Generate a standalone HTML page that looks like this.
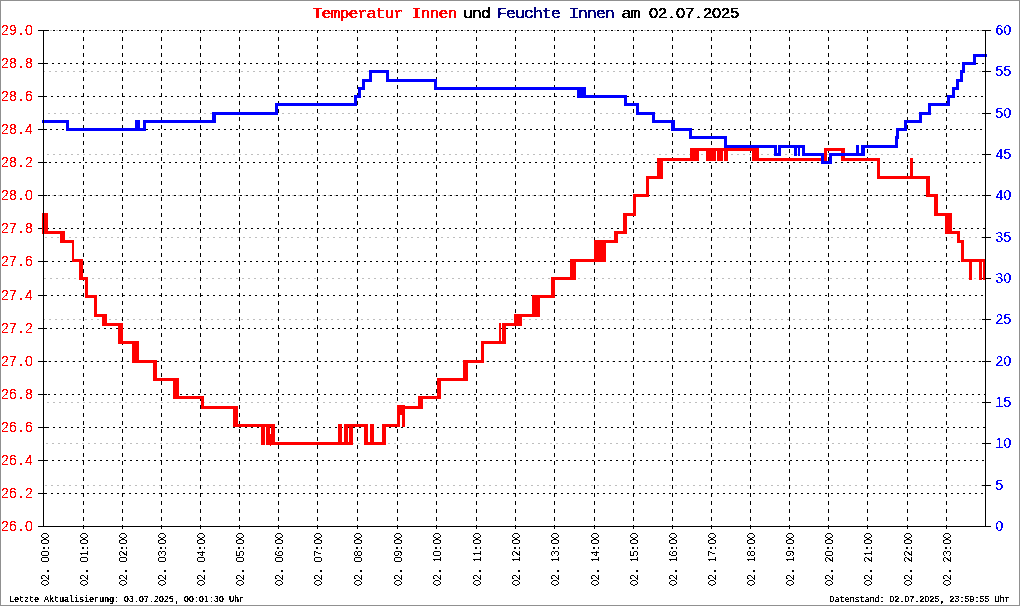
<!DOCTYPE html>
<html><head><meta charset="utf-8"><title>Temperatur Innen und Feuchte Innen am 02.07.2025</title>
<style>
html,body{margin:0;padding:0;background:#fff;width:1020px;height:606px;overflow:hidden;}
#c{position:relative;width:1020px;height:606px;overflow:hidden;background:#fff;font-family:"Liberation Sans",sans-serif;}
svg text{white-space:pre;}
#xl{position:absolute;left:0;top:606px;width:606px;height:1020px;transform-origin:0 0;transform:rotate(-90deg);will-change:transform;pointer-events:none;}
</style></head><body><div id="c"><svg width="1020" height="606" viewBox="0 0 1020 606" style="display:block"><defs><filter id="thr3" x="0" y="0" width="1020" height="606" filterUnits="userSpaceOnUse" color-interpolation-filters="sRGB"><feComponentTransfer><feFuncA type="discrete" tableValues="0 1 1"/></feComponentTransfer></filter><filter id="thr2" x="0" y="0" width="1020" height="1020" filterUnits="userSpaceOnUse" color-interpolation-filters="sRGB"><feComponentTransfer><feFuncA type="discrete" tableValues="0 1"/></feComponentTransfer></filter><filter id="thr" x="0" y="0" width="1020" height="606" filterUnits="userSpaceOnUse" color-interpolation-filters="sRGB"><feComponentTransfer><feFuncA type="discrete" tableValues="0 0 1 1 1"/></feComponentTransfer></filter></defs><rect width="1020" height="606" fill="#ffffff"/><g shape-rendering="crispEdges"><rect x="0.5" y="0.5" width="1019" height="605" fill="none" stroke="#909090" stroke-width="1"/><line x1="44" x2="985" y1="30.5" y2="30.5" stroke="#bebebe" stroke-dasharray="2 4"/><line x1="49" x2="985" y1="71.5" y2="71.5" stroke="#bebebe" stroke-dasharray="2 4"/><rect x="44" y="71" width="1" height="1" fill="#bebebe"/><line x1="48" x2="985" y1="113.5" y2="113.5" stroke="#bebebe" stroke-dasharray="2 4"/><line x1="47" x2="985" y1="154.5" y2="154.5" stroke="#bebebe" stroke-dasharray="2 4"/><line x1="46" x2="985" y1="195.5" y2="195.5" stroke="#bebebe" stroke-dasharray="2 4"/><line x1="45" x2="985" y1="237.5" y2="237.5" stroke="#bebebe" stroke-dasharray="2 4"/><line x1="44" x2="985" y1="278.5" y2="278.5" stroke="#bebebe" stroke-dasharray="2 4"/><line x1="49" x2="985" y1="319.5" y2="319.5" stroke="#bebebe" stroke-dasharray="2 4"/><rect x="44" y="319" width="1" height="1" fill="#bebebe"/><line x1="48" x2="985" y1="361.5" y2="361.5" stroke="#bebebe" stroke-dasharray="2 4"/><line x1="47" x2="985" y1="402.5" y2="402.5" stroke="#bebebe" stroke-dasharray="2 4"/><line x1="46" x2="985" y1="443.5" y2="443.5" stroke="#bebebe" stroke-dasharray="2 4"/><line x1="45" x2="985" y1="485.5" y2="485.5" stroke="#bebebe" stroke-dasharray="2 4"/><line x1="44" x2="985" y1="526.5" y2="526.5" stroke="#bebebe" stroke-dasharray="2 4"/><line x1="47" x2="985" y1="30.5" y2="30.5" stroke="#000" stroke-dasharray="2 4"/><line x1="46" x2="985" y1="63.5" y2="63.5" stroke="#000" stroke-dasharray="2 4"/><line x1="45" x2="985" y1="96.5" y2="96.5" stroke="#000" stroke-dasharray="2 4"/><line x1="44" x2="985" y1="129.5" y2="129.5" stroke="#000" stroke-dasharray="2 4"/><line x1="49" x2="985" y1="162.5" y2="162.5" stroke="#000" stroke-dasharray="2 4"/><line x1="48" x2="985" y1="195.5" y2="195.5" stroke="#000" stroke-dasharray="2 4"/><line x1="47" x2="985" y1="228.5" y2="228.5" stroke="#000" stroke-dasharray="2 4"/><line x1="46" x2="985" y1="261.5" y2="261.5" stroke="#000" stroke-dasharray="2 4"/><line x1="45" x2="985" y1="295.5" y2="295.5" stroke="#000" stroke-dasharray="2 4"/><line x1="44" x2="985" y1="328.5" y2="328.5" stroke="#000" stroke-dasharray="2 4"/><line x1="49" x2="985" y1="361.5" y2="361.5" stroke="#000" stroke-dasharray="2 4"/><line x1="48" x2="985" y1="394.5" y2="394.5" stroke="#000" stroke-dasharray="2 4"/><line x1="47" x2="985" y1="427.5" y2="427.5" stroke="#000" stroke-dasharray="2 4"/><line x1="46" x2="985" y1="460.5" y2="460.5" stroke="#000" stroke-dasharray="2 4"/><line x1="45" x2="985" y1="493.5" y2="493.5" stroke="#000" stroke-dasharray="2 4"/><line x1="44" x2="985" y1="526.5" y2="526.5" stroke="#000" stroke-dasharray="2 4"/><line x1="83.5" x2="83.5" y1="529" y2="30" stroke="#000" stroke-dasharray="4 4"/><line x1="122.5" x2="122.5" y1="529" y2="30" stroke="#000" stroke-dasharray="4 4"/><line x1="161.5" x2="161.5" y1="529" y2="30" stroke="#000" stroke-dasharray="4 4"/><line x1="200.5" x2="200.5" y1="529" y2="30" stroke="#000" stroke-dasharray="4 4"/><line x1="239.5" x2="239.5" y1="529" y2="30" stroke="#000" stroke-dasharray="4 4"/><line x1="278.5" x2="278.5" y1="529" y2="30" stroke="#000" stroke-dasharray="4 4"/><line x1="317.5" x2="317.5" y1="529" y2="30" stroke="#000" stroke-dasharray="4 4"/><line x1="357.5" x2="357.5" y1="529" y2="30" stroke="#000" stroke-dasharray="4 4"/><line x1="397.5" x2="397.5" y1="529" y2="30" stroke="#000" stroke-dasharray="4 4"/><line x1="436.5" x2="436.5" y1="529" y2="30" stroke="#000" stroke-dasharray="4 4"/><line x1="476.5" x2="476.5" y1="529" y2="30" stroke="#000" stroke-dasharray="4 4"/><line x1="515.5" x2="515.5" y1="529" y2="30" stroke="#000" stroke-dasharray="4 4"/><line x1="554.5" x2="554.5" y1="529" y2="30" stroke="#000" stroke-dasharray="4 4"/><line x1="594.5" x2="594.5" y1="529" y2="30" stroke="#000" stroke-dasharray="4 4"/><line x1="633.5" x2="633.5" y1="529" y2="30" stroke="#000" stroke-dasharray="4 4"/><line x1="672.5" x2="672.5" y1="529" y2="30" stroke="#000" stroke-dasharray="4 4"/><line x1="711.5" x2="711.5" y1="529" y2="30" stroke="#000" stroke-dasharray="4 4"/><line x1="750.5" x2="750.5" y1="529" y2="30" stroke="#000" stroke-dasharray="4 4"/><line x1="789.5" x2="789.5" y1="529" y2="30" stroke="#000" stroke-dasharray="4 4"/><line x1="828.5" x2="828.5" y1="529" y2="30" stroke="#000" stroke-dasharray="4 4"/><line x1="867.5" x2="867.5" y1="529" y2="30" stroke="#000" stroke-dasharray="4 4"/><line x1="907.5" x2="907.5" y1="529" y2="30" stroke="#000" stroke-dasharray="4 4"/><line x1="946.5" x2="946.5" y1="529" y2="30" stroke="#000" stroke-dasharray="4 4"/><rect x="38" y="30" width="9" height="1" fill="#000"/><rect x="38" y="63" width="9" height="1" fill="#000"/><rect x="38" y="96" width="9" height="1" fill="#000"/><rect x="38" y="129" width="9" height="1" fill="#000"/><rect x="38" y="162" width="9" height="1" fill="#000"/><rect x="38" y="195" width="9" height="1" fill="#000"/><rect x="38" y="228" width="9" height="1" fill="#000"/><rect x="38" y="261" width="9" height="1" fill="#000"/><rect x="38" y="295" width="9" height="1" fill="#000"/><rect x="38" y="328" width="9" height="1" fill="#000"/><rect x="38" y="361" width="9" height="1" fill="#000"/><rect x="38" y="394" width="9" height="1" fill="#000"/><rect x="38" y="427" width="9" height="1" fill="#000"/><rect x="38" y="460" width="9" height="1" fill="#000"/><rect x="38" y="493" width="9" height="1" fill="#000"/><rect x="38" y="526" width="9" height="1" fill="#000"/><rect x="982" y="526" width="9" height="1" fill="#000"/><rect x="982" y="485" width="9" height="1" fill="#000"/><rect x="982" y="443" width="9" height="1" fill="#000"/><rect x="982" y="402" width="9" height="1" fill="#000"/><rect x="982" y="361" width="9" height="1" fill="#000"/><rect x="982" y="319" width="9" height="1" fill="#000"/><rect x="982" y="278" width="9" height="1" fill="#000"/><rect x="982" y="237" width="9" height="1" fill="#000"/><rect x="982" y="195" width="9" height="1" fill="#000"/><rect x="982" y="154" width="9" height="1" fill="#000"/><rect x="982" y="113" width="9" height="1" fill="#000"/><rect x="982" y="71" width="9" height="1" fill="#000"/><rect x="982" y="30" width="9" height="1" fill="#000"/><rect x="42" y="213" width="6" height="3" fill="#ff0000"/><rect x="42" y="213" width="6" height="21" fill="#ff0000"/><rect x="42" y="231" width="23" height="3" fill="#ff0000"/><rect x="60" y="231" width="5" height="12" fill="#ff0000"/><rect x="60" y="240" width="14" height="3" fill="#ff0000"/><rect x="72" y="240" width="2" height="22" fill="#ff0000"/><rect x="72" y="259" width="11" height="3" fill="#ff0000"/><rect x="79" y="259" width="4" height="21" fill="#ff0000"/><rect x="79" y="277" width="9" height="3" fill="#ff0000"/><rect x="85" y="277" width="3" height="21" fill="#ff0000"/><rect x="85" y="295" width="12" height="3" fill="#ff0000"/><rect x="94" y="295" width="3" height="22" fill="#ff0000"/><rect x="94" y="314" width="13" height="3" fill="#ff0000"/><rect x="102" y="314" width="5" height="12" fill="#ff0000"/><rect x="102" y="323" width="21" height="3" fill="#ff0000"/><rect x="118" y="323" width="5" height="21" fill="#ff0000"/><rect x="118" y="341" width="21" height="3" fill="#ff0000"/><rect x="132" y="341" width="7" height="22" fill="#ff0000"/><rect x="132" y="360" width="25" height="3" fill="#ff0000"/><rect x="153" y="360" width="4" height="21" fill="#ff0000"/><rect x="153" y="378" width="26" height="3" fill="#ff0000"/><rect x="173" y="378" width="6" height="21" fill="#ff0000"/><rect x="173" y="396" width="31" height="3" fill="#ff0000"/><rect x="201" y="396" width="3" height="13" fill="#ff0000"/><rect x="201" y="406" width="37" height="3" fill="#ff0000"/><rect x="233" y="406" width="5" height="21" fill="#ff0000"/><rect x="233" y="424" width="42" height="3" fill="#ff0000"/><rect x="271" y="424" width="4" height="21" fill="#ff0000"/><rect x="271" y="442" width="82" height="3" fill="#ff0000"/><rect x="349" y="424" width="4" height="21" fill="#ff0000"/><rect x="349" y="424" width="19" height="3" fill="#ff0000"/><rect x="364" y="424" width="4" height="21" fill="#ff0000"/><rect x="364" y="442" width="22" height="3" fill="#ff0000"/><rect x="382" y="424" width="4" height="21" fill="#ff0000"/><rect x="382" y="424" width="18" height="3" fill="#ff0000"/><rect x="397" y="406" width="3" height="21" fill="#ff0000"/><rect x="397" y="406" width="26" height="3" fill="#ff0000"/><rect x="418" y="396" width="5" height="13" fill="#ff0000"/><rect x="418" y="396" width="23" height="3" fill="#ff0000"/><rect x="437" y="378" width="4" height="21" fill="#ff0000"/><rect x="437" y="378" width="31" height="3" fill="#ff0000"/><rect x="463" y="360" width="5" height="21" fill="#ff0000"/><rect x="463" y="360" width="21" height="3" fill="#ff0000"/><rect x="481" y="341" width="3" height="22" fill="#ff0000"/><rect x="481" y="341" width="25" height="3" fill="#ff0000"/><rect x="502" y="323" width="4" height="21" fill="#ff0000"/><rect x="502" y="323" width="20" height="3" fill="#ff0000"/><rect x="514" y="314" width="8" height="12" fill="#ff0000"/><rect x="514" y="314" width="26" height="3" fill="#ff0000"/><rect x="532" y="295" width="8" height="22" fill="#ff0000"/><rect x="532" y="295" width="23" height="3" fill="#ff0000"/><rect x="551" y="277" width="4" height="21" fill="#ff0000"/><rect x="551" y="277" width="25" height="3" fill="#ff0000"/><rect x="570" y="259" width="6" height="21" fill="#ff0000"/><rect x="570" y="259" width="36" height="3" fill="#ff0000"/><rect x="594" y="240" width="12" height="22" fill="#ff0000"/><rect x="594" y="240" width="24" height="3" fill="#ff0000"/><rect x="614" y="231" width="4" height="12" fill="#ff0000"/><rect x="614" y="231" width="13" height="3" fill="#ff0000"/><rect x="623" y="213" width="4" height="21" fill="#ff0000"/><rect x="623" y="213" width="13" height="3" fill="#ff0000"/><rect x="633" y="194" width="3" height="22" fill="#ff0000"/><rect x="633" y="194" width="16" height="3" fill="#ff0000"/><rect x="646" y="176" width="3" height="21" fill="#ff0000"/><rect x="646" y="176" width="17" height="3" fill="#ff0000"/><rect x="657" y="158" width="6" height="21" fill="#ff0000"/><rect x="657" y="158" width="42" height="3" fill="#ff0000"/><rect x="690" y="148" width="9" height="13" fill="#ff0000"/><rect x="690" y="148" width="69" height="3" fill="#ff0000"/><rect x="752" y="148" width="7" height="13" fill="#ff0000"/><rect x="752" y="158" width="75" height="3" fill="#ff0000"/><rect x="824" y="148" width="3" height="13" fill="#ff0000"/><rect x="824" y="148" width="21" height="3" fill="#ff0000"/><rect x="841" y="148" width="4" height="13" fill="#ff0000"/><rect x="841" y="158" width="39" height="3" fill="#ff0000"/><rect x="877" y="158" width="3" height="21" fill="#ff0000"/><rect x="877" y="176" width="53" height="3" fill="#ff0000"/><rect x="926" y="176" width="4" height="21" fill="#ff0000"/><rect x="926" y="194" width="12" height="3" fill="#ff0000"/><rect x="934" y="194" width="4" height="22" fill="#ff0000"/><rect x="934" y="213" width="18" height="3" fill="#ff0000"/><rect x="945" y="213" width="7" height="21" fill="#ff0000"/><rect x="945" y="231" width="15" height="3" fill="#ff0000"/><rect x="957" y="231" width="3" height="12" fill="#ff0000"/><rect x="957" y="240" width="7" height="3" fill="#ff0000"/><rect x="961" y="240" width="3" height="22" fill="#ff0000"/><rect x="961" y="259" width="24" height="3" fill="#ff0000"/><rect x="261" y="424" width="4" height="21" fill="#ff0000"/><rect x="266" y="424" width="4" height="21" fill="#ff0000"/><rect x="266" y="442" width="8" height="3" fill="#ff0000"/><rect x="270" y="434" width="1" height="12" fill="#ff0000"/><rect x="338" y="424" width="4" height="21" fill="#ff0000"/><rect x="344" y="424" width="4" height="21" fill="#ff0000"/><rect x="344" y="424" width="6" height="3" fill="#ff0000"/><rect x="370" y="424" width="4" height="21" fill="#ff0000"/><rect x="402" y="406" width="3" height="21" fill="#ff0000"/><rect x="397" y="405" width="8" height="10" fill="#ff0000"/><rect x="499" y="323" width="2" height="21" fill="#ff0000"/><rect x="706" y="148" width="10" height="13" fill="#ff0000"/><rect x="717" y="148" width="6" height="13" fill="#ff0000"/><rect x="724" y="148" width="4" height="13" fill="#ff0000"/><rect x="910" y="158" width="3" height="21" fill="#ff0000"/><rect x="969" y="259" width="3" height="21" fill="#ff0000"/><rect x="979" y="259" width="3" height="21" fill="#ff0000"/><rect x="983" y="259" width="3" height="21" fill="#ff0000"/><rect x="42" y="120" width="27" height="3" fill="#0000ff"/><rect x="66" y="120" width="3" height="11" fill="#0000ff"/><rect x="66" y="128" width="80" height="3" fill="#0000ff"/><rect x="143" y="120" width="3" height="11" fill="#0000ff"/><rect x="143" y="120" width="73" height="3" fill="#0000ff"/><rect x="212" y="112" width="4" height="11" fill="#0000ff"/><rect x="212" y="112" width="66" height="3" fill="#0000ff"/><rect x="275" y="103" width="3" height="12" fill="#0000ff"/><rect x="275" y="103" width="82" height="3" fill="#0000ff"/><rect x="354" y="95" width="3" height="11" fill="#0000ff"/><rect x="354" y="95" width="7" height="3" fill="#0000ff"/><rect x="358" y="87" width="3" height="11" fill="#0000ff"/><rect x="358" y="87" width="7" height="3" fill="#0000ff"/><rect x="362" y="79" width="3" height="11" fill="#0000ff"/><rect x="362" y="79" width="10" height="3" fill="#0000ff"/><rect x="369" y="70" width="3" height="12" fill="#0000ff"/><rect x="369" y="70" width="20" height="3" fill="#0000ff"/><rect x="386" y="70" width="3" height="12" fill="#0000ff"/><rect x="386" y="79" width="51" height="3" fill="#0000ff"/><rect x="434" y="79" width="3" height="11" fill="#0000ff"/><rect x="434" y="87" width="152" height="3" fill="#0000ff"/><rect x="577" y="87" width="9" height="11" fill="#0000ff"/><rect x="577" y="95" width="50" height="3" fill="#0000ff"/><rect x="624" y="95" width="3" height="11" fill="#0000ff"/><rect x="624" y="103" width="15" height="3" fill="#0000ff"/><rect x="636" y="103" width="3" height="12" fill="#0000ff"/><rect x="636" y="112" width="19" height="3" fill="#0000ff"/><rect x="652" y="112" width="3" height="11" fill="#0000ff"/><rect x="652" y="120" width="23" height="3" fill="#0000ff"/><rect x="671" y="120" width="4" height="11" fill="#0000ff"/><rect x="671" y="128" width="21" height="3" fill="#0000ff"/><rect x="689" y="128" width="3" height="11" fill="#0000ff"/><rect x="689" y="136" width="38" height="3" fill="#0000ff"/><rect x="724" y="136" width="3" height="12" fill="#0000ff"/><rect x="724" y="145" width="53" height="3" fill="#0000ff"/><rect x="774" y="145" width="3" height="11" fill="#0000ff"/><rect x="774" y="153" width="7" height="3" fill="#0000ff"/><rect x="778" y="145" width="3" height="11" fill="#0000ff"/><rect x="778" y="145" width="27" height="3" fill="#0000ff"/><rect x="802" y="145" width="3" height="11" fill="#0000ff"/><rect x="802" y="153" width="22" height="3" fill="#0000ff"/><rect x="821" y="153" width="3" height="11" fill="#0000ff"/><rect x="821" y="161" width="11" height="3" fill="#0000ff"/><rect x="829" y="153" width="3" height="11" fill="#0000ff"/><rect x="829" y="153" width="36" height="3" fill="#0000ff"/><rect x="861" y="145" width="4" height="11" fill="#0000ff"/><rect x="861" y="145" width="37" height="3" fill="#0000ff"/><rect x="895" y="136" width="3" height="12" fill="#0000ff"/><rect x="895" y="136" width="4" height="3" fill="#0000ff"/><rect x="896" y="128" width="3" height="11" fill="#0000ff"/><rect x="896" y="128" width="11" height="3" fill="#0000ff"/><rect x="904" y="120" width="3" height="11" fill="#0000ff"/><rect x="904" y="120" width="18" height="3" fill="#0000ff"/><rect x="919" y="112" width="3" height="11" fill="#0000ff"/><rect x="919" y="112" width="12" height="3" fill="#0000ff"/><rect x="928" y="103" width="3" height="12" fill="#0000ff"/><rect x="928" y="103" width="22" height="3" fill="#0000ff"/><rect x="947" y="95" width="3" height="11" fill="#0000ff"/><rect x="947" y="95" width="8" height="3" fill="#0000ff"/><rect x="952" y="87" width="3" height="11" fill="#0000ff"/><rect x="952" y="87" width="7" height="3" fill="#0000ff"/><rect x="956" y="79" width="3" height="11" fill="#0000ff"/><rect x="956" y="79" width="7" height="3" fill="#0000ff"/><rect x="960" y="70" width="3" height="12" fill="#0000ff"/><rect x="960" y="70" width="5" height="3" fill="#0000ff"/><rect x="962" y="62" width="3" height="11" fill="#0000ff"/><rect x="962" y="62" width="14" height="3" fill="#0000ff"/><rect x="973" y="54" width="3" height="11" fill="#0000ff"/><rect x="973" y="54" width="14" height="3" fill="#0000ff"/><rect x="135" y="120" width="5" height="11" fill="#0000ff"/><rect x="794" y="145" width="3" height="11" fill="#0000ff"/><rect x="798" y="145" width="2" height="11" fill="#0000ff"/><rect x="856" y="145" width="3" height="11" fill="#0000ff"/><rect x="43" y="30" width="1" height="497" fill="#000"/><rect x="985" y="30" width="1" height="497" fill="#000"/><rect x="38" y="526" width="953" height="1" fill="#000"/></g><g filter="url(#thr2)"><text transform="translate(313,18) scale(1.1,1.0)" x="-0.41 7.77 15.95 24.14 32.32 40.50 48.68 56.86 65.05 73.23 81.41 89.59 97.77 105.95 114.14 122.32" y="0" font-family="Liberation Mono" font-size="15" font-weight="normal" fill="#ff0000" stroke="#ff0000" stroke-width="0.4" xml:space="preserve">Temperatur Innen</text><text transform="translate(463.5,18) scale(1.1,1.0)" x="-0.41 7.77 15.95" y="0" font-family="Liberation Mono" font-size="15" font-weight="normal" fill="#000000" stroke="#000000" stroke-width="0.4" xml:space="preserve">und</text><text transform="translate(497.5,18) scale(1.1,1.0)" x="-0.41 7.77 15.95 24.14 32.32 40.50 48.68 56.86 65.05 73.23 81.41 89.59 97.77" y="0" font-family="Liberation Mono" font-size="15" font-weight="normal" fill="#000080" stroke="#000080" stroke-width="0.4" xml:space="preserve">Feuchte Innen</text><text transform="translate(622,18) scale(1.1,1.0)" x="-0.41 7.77" y="0" font-family="Liberation Mono" font-size="15" font-weight="normal" fill="#000000" stroke="#000000" stroke-width="0.4" xml:space="preserve">am</text><text transform="translate(649,18) scale(1.1,1.0)" x="-0.08 8.10 18.37 24.47 32.65 42.91 49.01 57.19 65.38 73.56" y="0" font-family="Liberation Sans" font-size="15" font-weight="normal" fill="#000000" stroke="#000000" stroke-width="0.4" xml:space="preserve">02.07.2025</text></g><g filter="url(#thr)"><text transform="translate(1,35)" x="0.11 8.11 18.05 24.11" y="0" font-family="Liberation Sans" font-size="14" font-weight="normal" fill="#ff0000" xml:space="preserve">29<tspan stroke="#ff0000" stroke-width="0.5">.</tspan>0</text><text transform="translate(1,68)" x="0.11 8.11 18.05 24.11" y="0" font-family="Liberation Sans" font-size="14" font-weight="normal" fill="#ff0000" xml:space="preserve">28<tspan stroke="#ff0000" stroke-width="0.5">.</tspan>8</text><text transform="translate(1,101)" x="0.11 8.11 18.05 24.11" y="0" font-family="Liberation Sans" font-size="14" font-weight="normal" fill="#ff0000" xml:space="preserve">28<tspan stroke="#ff0000" stroke-width="0.5">.</tspan>6</text><text transform="translate(1,134)" x="0.11 8.11 18.05 24.11" y="0" font-family="Liberation Sans" font-size="14" font-weight="normal" fill="#ff0000" xml:space="preserve">28<tspan stroke="#ff0000" stroke-width="0.5">.</tspan>4</text><text transform="translate(1,167)" x="0.11 8.11 18.05 24.11" y="0" font-family="Liberation Sans" font-size="14" font-weight="normal" fill="#ff0000" xml:space="preserve">28<tspan stroke="#ff0000" stroke-width="0.5">.</tspan>2</text><text transform="translate(1,200)" x="0.11 8.11 18.05 24.11" y="0" font-family="Liberation Sans" font-size="14" font-weight="normal" fill="#ff0000" xml:space="preserve">28<tspan stroke="#ff0000" stroke-width="0.5">.</tspan>0</text><text transform="translate(1,233)" x="0.11 8.11 18.05 24.11" y="0" font-family="Liberation Sans" font-size="14" font-weight="normal" fill="#ff0000" xml:space="preserve">27<tspan stroke="#ff0000" stroke-width="0.5">.</tspan>8</text><text transform="translate(1,266)" x="0.11 8.11 18.05 24.11" y="0" font-family="Liberation Sans" font-size="14" font-weight="normal" fill="#ff0000" xml:space="preserve">27<tspan stroke="#ff0000" stroke-width="0.5">.</tspan>6</text><text transform="translate(1,300)" x="0.11 8.11 18.05 24.11" y="0" font-family="Liberation Sans" font-size="14" font-weight="normal" fill="#ff0000" xml:space="preserve">27<tspan stroke="#ff0000" stroke-width="0.5">.</tspan>4</text><text transform="translate(1,333)" x="0.11 8.11 18.05 24.11" y="0" font-family="Liberation Sans" font-size="14" font-weight="normal" fill="#ff0000" xml:space="preserve">27<tspan stroke="#ff0000" stroke-width="0.5">.</tspan>2</text><text transform="translate(1,366)" x="0.11 8.11 18.05 24.11" y="0" font-family="Liberation Sans" font-size="14" font-weight="normal" fill="#ff0000" xml:space="preserve">27<tspan stroke="#ff0000" stroke-width="0.5">.</tspan>0</text><text transform="translate(1,399)" x="0.11 8.11 18.05 24.11" y="0" font-family="Liberation Sans" font-size="14" font-weight="normal" fill="#ff0000" xml:space="preserve">26<tspan stroke="#ff0000" stroke-width="0.5">.</tspan>8</text><text transform="translate(1,432)" x="0.11 8.11 18.05 24.11" y="0" font-family="Liberation Sans" font-size="14" font-weight="normal" fill="#ff0000" xml:space="preserve">26<tspan stroke="#ff0000" stroke-width="0.5">.</tspan>6</text><text transform="translate(1,465)" x="0.11 8.11 18.05 24.11" y="0" font-family="Liberation Sans" font-size="14" font-weight="normal" fill="#ff0000" xml:space="preserve">26<tspan stroke="#ff0000" stroke-width="0.5">.</tspan>4</text><text transform="translate(1,498)" x="0.11 8.11 18.05 24.11" y="0" font-family="Liberation Sans" font-size="14" font-weight="normal" fill="#ff0000" xml:space="preserve">26<tspan stroke="#ff0000" stroke-width="0.5">.</tspan>2</text><text transform="translate(1,531)" x="0.11 8.11 18.05 24.11" y="0" font-family="Liberation Sans" font-size="14" font-weight="normal" fill="#ff0000" xml:space="preserve">26<tspan stroke="#ff0000" stroke-width="0.5">.</tspan>0</text><text transform="translate(995.5,531)" x="0.11" y="0" font-family="Liberation Sans" font-size="14" font-weight="normal" fill="#0000ff" xml:space="preserve">0</text><text transform="translate(995.5,490)" x="0.11" y="0" font-family="Liberation Sans" font-size="14" font-weight="normal" fill="#0000ff" xml:space="preserve">5</text><text transform="translate(995.5,448)" x="0.11 8.11" y="0" font-family="Liberation Sans" font-size="14" font-weight="normal" fill="#0000ff" xml:space="preserve">10</text><text transform="translate(995.5,407)" x="0.11 8.11" y="0" font-family="Liberation Sans" font-size="14" font-weight="normal" fill="#0000ff" xml:space="preserve">15</text><text transform="translate(995.5,366)" x="0.11 8.11" y="0" font-family="Liberation Sans" font-size="14" font-weight="normal" fill="#0000ff" xml:space="preserve">20</text><text transform="translate(995.5,324)" x="0.11 8.11" y="0" font-family="Liberation Sans" font-size="14" font-weight="normal" fill="#0000ff" xml:space="preserve">25</text><text transform="translate(995.5,283)" x="0.11 8.11" y="0" font-family="Liberation Sans" font-size="14" font-weight="normal" fill="#0000ff" xml:space="preserve">30</text><text transform="translate(995.5,242)" x="0.11 8.11" y="0" font-family="Liberation Sans" font-size="14" font-weight="normal" fill="#0000ff" xml:space="preserve">35</text><text transform="translate(995.5,200)" x="0.11 8.11" y="0" font-family="Liberation Sans" font-size="14" font-weight="normal" fill="#0000ff" xml:space="preserve">40</text><text transform="translate(995.5,159)" x="0.11 8.11" y="0" font-family="Liberation Sans" font-size="14" font-weight="normal" fill="#0000ff" xml:space="preserve">45</text><text transform="translate(995.5,118)" x="0.11 8.11" y="0" font-family="Liberation Sans" font-size="14" font-weight="normal" fill="#0000ff" xml:space="preserve">50</text><text transform="translate(995.5,76)" x="0.11 8.11" y="0" font-family="Liberation Sans" font-size="14" font-weight="normal" fill="#0000ff" xml:space="preserve">55</text><text transform="translate(995.5,35)" x="0.11 8.11" y="0" font-family="Liberation Sans" font-size="14" font-weight="normal" fill="#0000ff" xml:space="preserve">60</text></g><g filter="url(#thr3)"><text transform="translate(9,602)" x="-0.08 4.92 9.92 14.92 19.92 24.92 29.92 34.92 39.92 44.92 49.92 54.92 59.92 64.92 69.92 74.92 79.92 84.92 89.92 94.92 99.92 106.30 109.92 115.11 120.11 126.30 130.11 135.11 141.30 145.11 150.11 155.11 160.11 166.30 169.92 175.11 180.11 186.30 190.11 195.11 201.30 205.11 210.11 214.92 219.92 224.92 229.92" y="0" font-family="Liberation Mono" font-size="8.6" font-weight="normal" fill="#000000" xml:space="preserve">Letzte Aktualisierung<tspan font-family="Liberation Sans" font-size="8.6" stroke="#000000" stroke-width="0.5">:</tspan> <tspan font-family="Liberation Sans" font-size="8.6">0</tspan><tspan font-family="Liberation Sans" font-size="8.6">3</tspan><tspan font-family="Liberation Sans" font-size="8.6" stroke="#000000" stroke-width="0.5">.</tspan><tspan font-family="Liberation Sans" font-size="8.6">0</tspan><tspan font-family="Liberation Sans" font-size="8.6">7</tspan><tspan font-family="Liberation Sans" font-size="8.6" stroke="#000000" stroke-width="0.5">.</tspan><tspan font-family="Liberation Sans" font-size="8.6">2</tspan><tspan font-family="Liberation Sans" font-size="8.6">0</tspan><tspan font-family="Liberation Sans" font-size="8.6">2</tspan><tspan font-family="Liberation Sans" font-size="8.6">5</tspan><tspan font-family="Liberation Sans" font-size="8.6" stroke="#000000" stroke-width="0.5">,</tspan> <tspan font-family="Liberation Sans" font-size="8.6">0</tspan><tspan font-family="Liberation Sans" font-size="8.6">0</tspan><tspan font-family="Liberation Sans" font-size="8.6" stroke="#000000" stroke-width="0.5">:</tspan><tspan font-family="Liberation Sans" font-size="8.6">0</tspan><tspan font-family="Liberation Sans" font-size="8.6">1</tspan><tspan font-family="Liberation Sans" font-size="8.6" stroke="#000000" stroke-width="0.5">:</tspan><tspan font-family="Liberation Sans" font-size="8.6">3</tspan><tspan font-family="Liberation Sans" font-size="8.6">0</tspan> Uhr</text><text transform="translate(829.5,602)" x="-0.08 4.92 9.92 14.92 19.92 24.92 29.92 34.92 39.92 44.92 51.30 54.92 60.11 65.11 71.30 75.11 80.11 86.30 90.11 95.11 100.11 105.11 111.30 114.92 120.11 125.11 131.30 135.11 140.11 146.30 150.11 155.11 159.92 164.92 169.92 174.92" y="0" font-family="Liberation Mono" font-size="8.6" font-weight="normal" fill="#000000" xml:space="preserve">Datenstand<tspan font-family="Liberation Sans" font-size="8.6" stroke="#000000" stroke-width="0.5">:</tspan> <tspan font-family="Liberation Sans" font-size="8.6">0</tspan><tspan font-family="Liberation Sans" font-size="8.6">2</tspan><tspan font-family="Liberation Sans" font-size="8.6" stroke="#000000" stroke-width="0.5">.</tspan><tspan font-family="Liberation Sans" font-size="8.6">0</tspan><tspan font-family="Liberation Sans" font-size="8.6">7</tspan><tspan font-family="Liberation Sans" font-size="8.6" stroke="#000000" stroke-width="0.5">.</tspan><tspan font-family="Liberation Sans" font-size="8.6">2</tspan><tspan font-family="Liberation Sans" font-size="8.6">0</tspan><tspan font-family="Liberation Sans" font-size="8.6">2</tspan><tspan font-family="Liberation Sans" font-size="8.6">5</tspan><tspan font-family="Liberation Sans" font-size="8.6" stroke="#000000" stroke-width="0.5">,</tspan> <tspan font-family="Liberation Sans" font-size="8.6">2</tspan><tspan font-family="Liberation Sans" font-size="8.6">3</tspan><tspan font-family="Liberation Sans" font-size="8.6" stroke="#000000" stroke-width="0.5">:</tspan><tspan font-family="Liberation Sans" font-size="8.6">5</tspan><tspan font-family="Liberation Sans" font-size="8.6">9</tspan><tspan font-family="Liberation Sans" font-size="8.6" stroke="#000000" stroke-width="0.5">:</tspan><tspan font-family="Liberation Sans" font-size="8.6">5</tspan><tspan font-family="Liberation Sans" font-size="8.6">5</tspan> Uhr</text></g></svg><div id="xl"><svg width="606" height="1020" viewBox="0 0 606 1020" style="display:block"><g filter="url(#thr2)"><text transform="translate(20,49)" x="-0.11 5.79 13.22 19.12 23.49 29.39 36.82 41.19 47.09" y="0" font-family="Liberation Sans" font-size="11" font-weight="normal" fill="#000000" xml:space="preserve">02<tspan stroke="#000000" stroke-width="1.0">.</tspan> 00<tspan stroke="#000000" stroke-width="1.0">:</tspan>00</text><text transform="translate(20,88)" x="-0.11 5.79 13.22 19.12 23.49 29.39 36.82 41.19 47.09" y="0" font-family="Liberation Sans" font-size="11" font-weight="normal" fill="#000000" xml:space="preserve">02<tspan stroke="#000000" stroke-width="1.0">.</tspan> 01<tspan stroke="#000000" stroke-width="1.0">:</tspan>00</text><text transform="translate(20,127)" x="-0.11 5.79 13.22 19.12 23.49 29.39 36.82 41.19 47.09" y="0" font-family="Liberation Sans" font-size="11" font-weight="normal" fill="#000000" xml:space="preserve">02<tspan stroke="#000000" stroke-width="1.0">.</tspan> 02<tspan stroke="#000000" stroke-width="1.0">:</tspan>00</text><text transform="translate(20,166)" x="-0.11 5.79 13.22 19.12 23.49 29.39 36.82 41.19 47.09" y="0" font-family="Liberation Sans" font-size="11" font-weight="normal" fill="#000000" xml:space="preserve">02<tspan stroke="#000000" stroke-width="1.0">.</tspan> 03<tspan stroke="#000000" stroke-width="1.0">:</tspan>00</text><text transform="translate(20,205)" x="-0.11 5.79 13.22 19.12 23.49 29.39 36.82 41.19 47.09" y="0" font-family="Liberation Sans" font-size="11" font-weight="normal" fill="#000000" xml:space="preserve">02<tspan stroke="#000000" stroke-width="1.0">.</tspan> 04<tspan stroke="#000000" stroke-width="1.0">:</tspan>00</text><text transform="translate(20,244)" x="-0.11 5.79 13.22 19.12 23.49 29.39 36.82 41.19 47.09" y="0" font-family="Liberation Sans" font-size="11" font-weight="normal" fill="#000000" xml:space="preserve">02<tspan stroke="#000000" stroke-width="1.0">.</tspan> 05<tspan stroke="#000000" stroke-width="1.0">:</tspan>00</text><text transform="translate(20,283)" x="-0.11 5.79 13.22 19.12 23.49 29.39 36.82 41.19 47.09" y="0" font-family="Liberation Sans" font-size="11" font-weight="normal" fill="#000000" xml:space="preserve">02<tspan stroke="#000000" stroke-width="1.0">.</tspan> 06<tspan stroke="#000000" stroke-width="1.0">:</tspan>00</text><text transform="translate(20,322)" x="-0.11 5.79 13.22 19.12 23.49 29.39 36.82 41.19 47.09" y="0" font-family="Liberation Sans" font-size="11" font-weight="normal" fill="#000000" xml:space="preserve">02<tspan stroke="#000000" stroke-width="1.0">.</tspan> 07<tspan stroke="#000000" stroke-width="1.0">:</tspan>00</text><text transform="translate(20,362)" x="-0.11 5.79 13.22 19.12 23.49 29.39 36.82 41.19 47.09" y="0" font-family="Liberation Sans" font-size="11" font-weight="normal" fill="#000000" xml:space="preserve">02<tspan stroke="#000000" stroke-width="1.0">.</tspan> 08<tspan stroke="#000000" stroke-width="1.0">:</tspan>00</text><text transform="translate(20,402)" x="-0.11 5.79 13.22 19.12 23.49 29.39 36.82 41.19 47.09" y="0" font-family="Liberation Sans" font-size="11" font-weight="normal" fill="#000000" xml:space="preserve">02<tspan stroke="#000000" stroke-width="1.0">.</tspan> 09<tspan stroke="#000000" stroke-width="1.0">:</tspan>00</text><text transform="translate(20,441)" x="-0.11 5.79 13.22 19.12 23.49 29.39 36.82 41.19 47.09" y="0" font-family="Liberation Sans" font-size="11" font-weight="normal" fill="#000000" xml:space="preserve">02<tspan stroke="#000000" stroke-width="1.0">.</tspan> 10<tspan stroke="#000000" stroke-width="1.0">:</tspan>00</text><text transform="translate(20,481)" x="-0.11 5.79 13.22 19.12 23.49 29.39 36.82 41.19 47.09" y="0" font-family="Liberation Sans" font-size="11" font-weight="normal" fill="#000000" xml:space="preserve">02<tspan stroke="#000000" stroke-width="1.0">.</tspan> 11<tspan stroke="#000000" stroke-width="1.0">:</tspan>00</text><text transform="translate(20,520)" x="-0.11 5.79 13.22 19.12 23.49 29.39 36.82 41.19 47.09" y="0" font-family="Liberation Sans" font-size="11" font-weight="normal" fill="#000000" xml:space="preserve">02<tspan stroke="#000000" stroke-width="1.0">.</tspan> 12<tspan stroke="#000000" stroke-width="1.0">:</tspan>00</text><text transform="translate(20,559)" x="-0.11 5.79 13.22 19.12 23.49 29.39 36.82 41.19 47.09" y="0" font-family="Liberation Sans" font-size="11" font-weight="normal" fill="#000000" xml:space="preserve">02<tspan stroke="#000000" stroke-width="1.0">.</tspan> 13<tspan stroke="#000000" stroke-width="1.0">:</tspan>00</text><text transform="translate(20,599)" x="-0.11 5.79 13.22 19.12 23.49 29.39 36.82 41.19 47.09" y="0" font-family="Liberation Sans" font-size="11" font-weight="normal" fill="#000000" xml:space="preserve">02<tspan stroke="#000000" stroke-width="1.0">.</tspan> 14<tspan stroke="#000000" stroke-width="1.0">:</tspan>00</text><text transform="translate(20,638)" x="-0.11 5.79 13.22 19.12 23.49 29.39 36.82 41.19 47.09" y="0" font-family="Liberation Sans" font-size="11" font-weight="normal" fill="#000000" xml:space="preserve">02<tspan stroke="#000000" stroke-width="1.0">.</tspan> 15<tspan stroke="#000000" stroke-width="1.0">:</tspan>00</text><text transform="translate(20,677)" x="-0.11 5.79 13.22 19.12 23.49 29.39 36.82 41.19 47.09" y="0" font-family="Liberation Sans" font-size="11" font-weight="normal" fill="#000000" xml:space="preserve">02<tspan stroke="#000000" stroke-width="1.0">.</tspan> 16<tspan stroke="#000000" stroke-width="1.0">:</tspan>00</text><text transform="translate(20,716)" x="-0.11 5.79 13.22 19.12 23.49 29.39 36.82 41.19 47.09" y="0" font-family="Liberation Sans" font-size="11" font-weight="normal" fill="#000000" xml:space="preserve">02<tspan stroke="#000000" stroke-width="1.0">.</tspan> 17<tspan stroke="#000000" stroke-width="1.0">:</tspan>00</text><text transform="translate(20,755)" x="-0.11 5.79 13.22 19.12 23.49 29.39 36.82 41.19 47.09" y="0" font-family="Liberation Sans" font-size="11" font-weight="normal" fill="#000000" xml:space="preserve">02<tspan stroke="#000000" stroke-width="1.0">.</tspan> 18<tspan stroke="#000000" stroke-width="1.0">:</tspan>00</text><text transform="translate(20,794)" x="-0.11 5.79 13.22 19.12 23.49 29.39 36.82 41.19 47.09" y="0" font-family="Liberation Sans" font-size="11" font-weight="normal" fill="#000000" xml:space="preserve">02<tspan stroke="#000000" stroke-width="1.0">.</tspan> 19<tspan stroke="#000000" stroke-width="1.0">:</tspan>00</text><text transform="translate(20,833)" x="-0.11 5.79 13.22 19.12 23.49 29.39 36.82 41.19 47.09" y="0" font-family="Liberation Sans" font-size="11" font-weight="normal" fill="#000000" xml:space="preserve">02<tspan stroke="#000000" stroke-width="1.0">.</tspan> 20<tspan stroke="#000000" stroke-width="1.0">:</tspan>00</text><text transform="translate(20,872)" x="-0.11 5.79 13.22 19.12 23.49 29.39 36.82 41.19 47.09" y="0" font-family="Liberation Sans" font-size="11" font-weight="normal" fill="#000000" xml:space="preserve">02<tspan stroke="#000000" stroke-width="1.0">.</tspan> 21<tspan stroke="#000000" stroke-width="1.0">:</tspan>00</text><text transform="translate(20,912)" x="-0.11 5.79 13.22 19.12 23.49 29.39 36.82 41.19 47.09" y="0" font-family="Liberation Sans" font-size="11" font-weight="normal" fill="#000000" xml:space="preserve">02<tspan stroke="#000000" stroke-width="1.0">.</tspan> 22<tspan stroke="#000000" stroke-width="1.0">:</tspan>00</text><text transform="translate(20,951)" x="-0.11 5.79 13.22 19.12 23.49 29.39 36.82 41.19 47.09" y="0" font-family="Liberation Sans" font-size="11" font-weight="normal" fill="#000000" xml:space="preserve">02<tspan stroke="#000000" stroke-width="1.0">.</tspan> 23<tspan stroke="#000000" stroke-width="1.0">:</tspan>00</text></g></svg></div></div></body></html>
